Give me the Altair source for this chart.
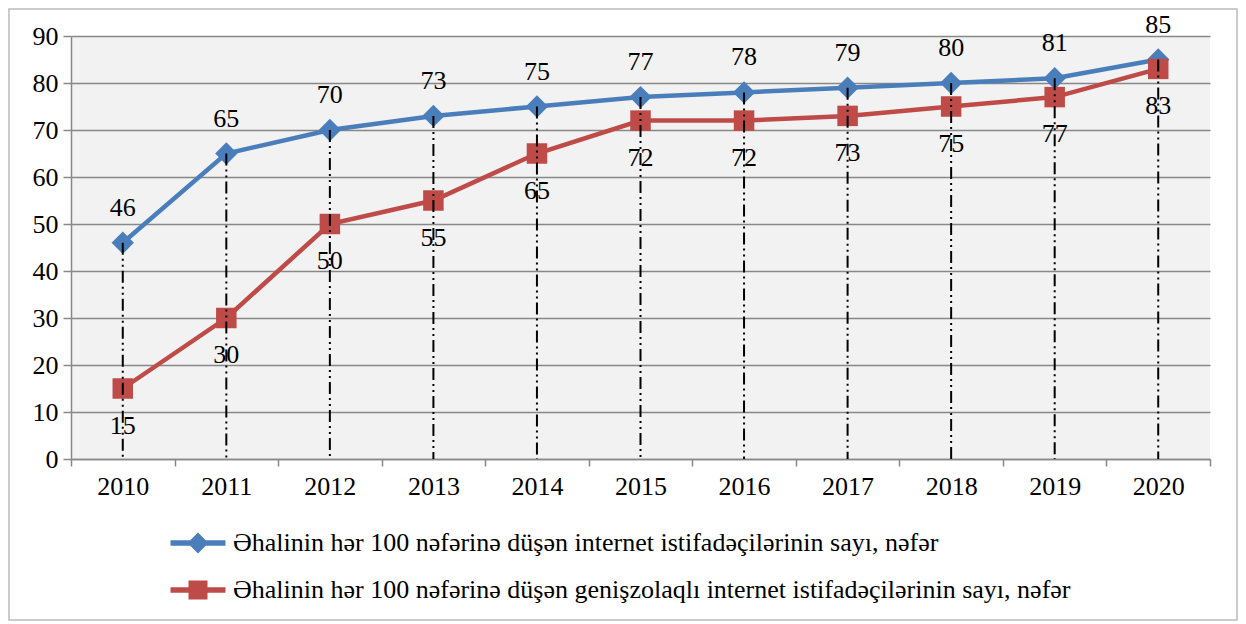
import altair as alt
import pandas as pd

years = ["2010", "2011", "2012", "2013", "2014", "2015", "2016", "2017", "2018", "2019", "2020"]
internet = [46, 65, 70, 73, 75, 77, 78, 79, 80, 81, 85]
broadband = [15, 30, 50, 55, 65, 72, 72, 73, 75, 77, 83]
series_names = [
    "Əhalinin hər 100 nəfərinə düşən internet istifadəçilərinin sayı, nəfər",
    "Əhalinin hər 100 nəfərinə düşən genişzolaqlı internet istifadəçilərinin sayı, nəfər",
]
colors = ["#4a7ebb", "#be4b48"]
y_ticks = [0, 10, 20, 30, 40, 50, 60, 70, 80, 90]

FONT = "Liberation Serif"
FS = 26

rows = []
for y, v in zip(years, internet):
    rows.append({"year": y, "value": v, "series": series_names[0]})
for y, v in zip(years, broadband):
    rows.append({"year": y, "value": v, "series": series_names[1]})
df = pd.DataFrame(rows)
df_top = pd.DataFrame({"year": years, "value": internet})

xenc = alt.X("year:O", scale=alt.Scale(type="band", paddingInner=0, paddingOuter=0),
             axis=alt.Axis(title=None, labelAngle=0, tickBand="extent", tickSize=7,
                           tickColor="#888888", tickWidth=1.5, domainColor="#888888",
                           domainWidth=1.5, labelFont=FONT, labelFontSize=FS,
                           labelColor="black", labelPadding=7, grid=False))
yenc = alt.Y("value:Q", scale=alt.Scale(domain=[0, 90], nice=False),
             axis=alt.Axis(title=None, values=y_ticks, tickSize=8, tickColor="#888888",
                           tickWidth=1.5, domainColor="#888888", domainWidth=1.5,
                           gridColor="#888888", gridWidth=1.5, labelFont=FONT,
                           labelFontSize=FS, labelColor="black", labelPadding=5))

color_scale = alt.Scale(domain=series_names, range=colors)

lines = alt.Chart(df).mark_line(strokeWidth=4.5).encode(
    x=xenc, y=yenc,
    color=alt.Color("series:N", scale=color_scale, legend=None),
)

points = alt.Chart(df).mark_point(filled=True, opacity=1).encode(
    x=xenc, y=yenc,
    color=alt.Color("series:N", scale=color_scale, legend=None),
    shape=alt.Shape("series:N", scale=alt.Scale(domain=series_names, range=["diamond", "square"]), legend=None),
    size=alt.Size("series:N", scale=alt.Scale(domain=series_names, range=[500, 420]), legend=None),
)

text_top = alt.Chart(df).transform_filter(
    alt.datum.series == series_names[0]
).mark_text(font=FONT, fontSize=FS, color="black", dy=-35, baseline="middle").encode(
    x=xenc, y=yenc, text="value:Q"
)
text_bot = alt.Chart(df).transform_filter(
    alt.datum.series == series_names[1]
).mark_text(font=FONT, fontSize=FS, color="black", dy=37, baseline="middle").encode(
    x=xenc, y=yenc, text="value:Q"
)

drops = alt.Chart(df_top).mark_rule(color="black", strokeWidth=2,
                                    strokeDash=[12, 4, 2, 4, 2, 4]).encode(
    x=xenc, y=yenc, y2=alt.Y2(datum=0)
)

blue_path = "M-2.75,-0.27L2.75,-0.27L2.75,0.27L-2.75,0.27Z M0,-1.05L1.05,0L0,1.05L-1.05,0Z"
red_path = "M-2.75,-0.27L2.75,-0.27L2.75,0.27L-2.75,0.27Z M-0.95,-0.95L0.95,-0.95L0.95,0.95L-0.95,0.95Z"

legend_props = dict(title=None, orient="none", legendX=114, legendY=494,
                    direction="vertical", symbolSize=400, symbolStrokeWidth=0,
                    labelFont=FONT, labelFontSize=FS, labelColor="black",
                    labelLimit=2000, labelOffset=22, rowPadding=21)

legend_layer = alt.Chart(df).transform_filter("datum.value < 0").mark_point(
    filled=True, opacity=1
).encode(
    x=xenc, y=yenc,
    color=alt.Color("series:N", scale=alt.Scale(domain=series_names, range=colors),
                    legend=alt.Legend(**legend_props)),
    shape=alt.Shape("series:N", scale=alt.Scale(domain=series_names, range=[blue_path, red_path]),
                    legend=alt.Legend(**legend_props)),
)

border = alt.Chart(pd.DataFrame({"a": [0]})).mark_rect(
    fill=None, stroke="#bbbbbb", strokeWidth=1.5
).encode(
    x=alt.value(-62), x2=alt.value(1166), y=alt.value(-27), y2=alt.value(584)
)

chart = alt.layer(
    border, lines, points, text_top, text_bot, drops, legend_layer
).resolve_scale(
    color="independent", shape="independent", size="independent"
).properties(
    width=1139, height=423,
    padding={"left": 63, "top": 28, "right": 28, "bottom": 163},
    autosize=alt.AutoSizeParams(type="none"),
    background="white",
).configure_view(
    fill="#f2f2f2", stroke=None
)

chart.save("out.html", embed_options={"renderer": "svg", "actions": False})
